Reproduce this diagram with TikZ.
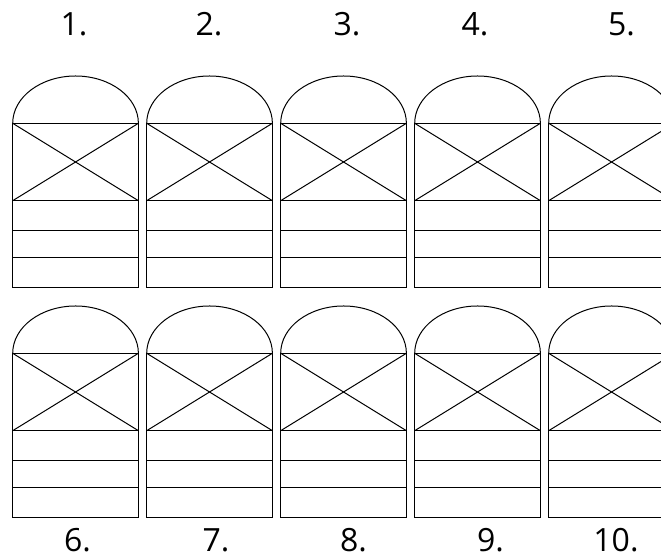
\documentclass[tikz,border=0pt]{standalone}
\usepackage{fontspec}
\setmainfont{Open Sans}

\begin{document}
\begin{tikzpicture}[x=0.5pt, y=-0.5pt,
  card/.style={line width=0.5pt},
  num/.style={font=\fontsize{16}{16}\selectfont, anchor=base, inner sep=0pt}]
  \useasboundingbox (0,0) rectangle (661,560);

  % Cards
  \begin{scope}
    \clip (0,0) rectangle (661,560);
    \foreach \row in {0,1} {
      \foreach \col in {0,...,4} {
        \begin{scope}[shift={(12.7+134*\col, 123.3+230*\row)}, card]
          \draw (0,0) arc[start angle=180, end angle=360, x radius=62.85, y radius=47.3];
          \draw (0,0) rectangle (125.7,164);
          \draw (0,0) -- (125.7,77.4);
          \draw (0,77.4) -- (125.7,0);
          \draw (0,77.4) -- (125.7,77.4);
          \draw (0,107.4) -- (125.7,107.4);
          \draw (0,134) -- (125.7,134);
        \end{scope}
      }
    }
  \end{scope}

  % Labels
  \foreach \i/\x in {1/74, 2/209, 3/347, 4/475, 5/621.5}
    \node[num] (lbl\i) at (\x,36) {\i.};
  \foreach \i/\x in {6/77.5, 7/216, 8/353.5, 9/490.5, 10/616}
    \node[num] (lbl\i) at (\x,552) {\i.};

\end{tikzpicture}
\end{document}
